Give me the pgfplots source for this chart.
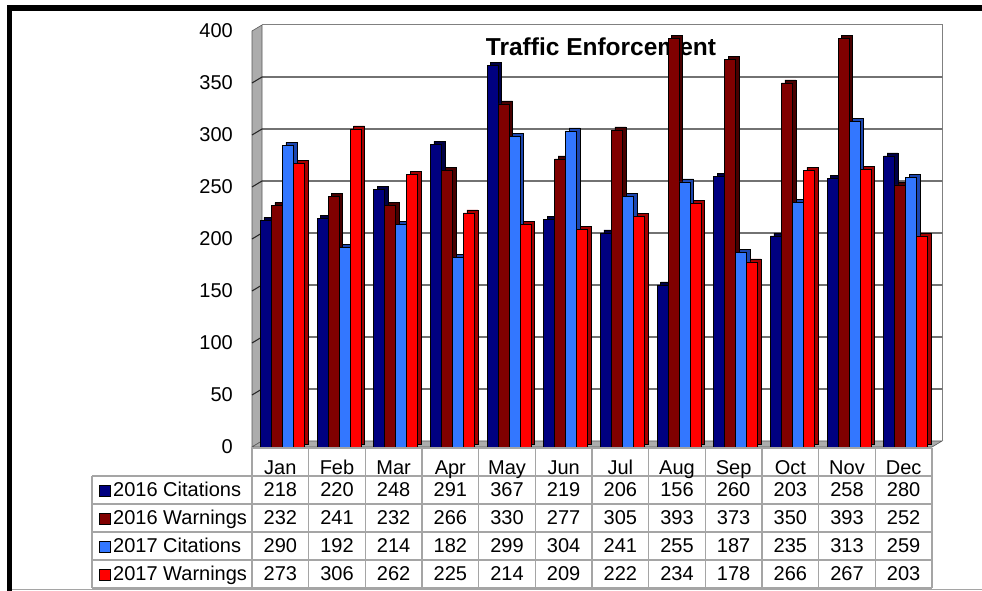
\documentclass[border=0pt]{standalone}
\usepackage{fontspec}
\setmainfont{Liberation Sans}
\usepackage{pgfplots}
\usepackage{pgfplotstable}
\pgfplotsset{compat=1.18}

\definecolor{cA}{RGB}{0,0,128}
\definecolor{cAs}{RGB}{0,0,70}
\definecolor{cB}{RGB}{128,0,0}
\definecolor{cBs}{RGB}{72,0,0}
\definecolor{cC}{RGB}{51,119,255}
\definecolor{cCs}{RGB}{28,70,175}
\definecolor{cD}{RGB}{255,0,0}
\definecolor{cDs}{RGB}{165,0,0}
\definecolor{wallgray}{RGB}{172,172,172}
\definecolor{tblgray}{RGB}{165,165,165}

\pgfplotstableread{
x month c16 w16 c17 w17
0 Jan 218 232 290 273
1 Feb 220 241 192 306
2 Mar 248 232 214 262
3 Apr 291 266 182 225
4 May 367 330 299 214
5 Jun 219 277 304 209
6 Jul 206 305 241 222
7 Aug 156 393 255 234
8 Sep 260 373 187 178
9 Oct 203 350 235 266
10 Nov 258 393 313 267
11 Dec 280 252 259 203
}\data

\begin{document}
\begin{tikzpicture}
\begin{scope}[x=1pt,y=1pt]
\path[use as bounding box] (0,0) rectangle (982,591);
% outer frame
\fill[black] (7,580) rectangle (982,586);
\fill[black] (7,0) rectangle (12,586);
\draw[tblgray, line width=1.2pt] (12,1.2) -- (982,1.2);
% side wall and floor
\fill[wallgray] (252,144) -- (262,150) -- (262,566) -- (252,560) -- cycle;
\draw[gray!70!black, line width=0.6pt] (252,144) -- (262,150) -- (262,566) -- (252,560) -- cycle;
\fill[wallgray] (252,144) -- (932,144) -- (942,150) -- (262,150) -- cycle;
\draw[gray!70!black, line width=0.6pt] (252,144) -- (932,144) -- (942,150) -- (262,150) -- cycle;
% back wall frame
\draw[gray, line width=1pt] (262,566) -- (942,566) -- (942,150);
% grid lines
\foreach \v in {50,100,...,350} {
  \draw[black!85, line width=1.1pt] (252,144+1.04*\v) -- (262,150+1.04*\v) -- (942,150+1.04*\v);
}
% title (behind the bars)
\node[font=\bfseries\fontsize{24.5}{28}\selectfont] at (601,544) {Traffic Enforcement};
\end{scope}

\begin{axis}[
  at={(252pt,144pt)}, anchor=south west,
  scale only axis, width=680pt, height=416pt,
  xmin=-0.5, xmax=11.5, ymin=0, ymax=400,
  axis line style={draw=none},
  ytick={0,50,...,400}, xtick=\empty,
  major tick length=0pt,
  /pgf/number format/assume math mode=true,
  yticklabel style={font=\fontsize{20}{24}\selectfont, inner sep=0pt, xshift=-19pt},
  ybar, bar width=11pt, clip=false,
  every axis plot/.append style={draw=black, line width=0.5pt},
]
\addplot[fill=cAs, draw=black, bar shift=-11pt, yshift=3pt] table[x=x,y=c16]{\data};
\addplot[fill=cA,  draw=black, bar shift=-14.5pt] table[x=x,y=c16]{\data};
\addplot[fill=cBs, draw=black, bar shift=0pt, yshift=3pt] table[x=x,y=w16]{\data};
\addplot[fill=cB,  draw=black, bar shift=-3.5pt] table[x=x,y=w16]{\data};
\addplot[fill=cCs, draw=black, bar shift=11pt, yshift=3pt] table[x=x,y=c17]{\data};
\addplot[fill=cC,  draw=black, bar shift=7.5pt] table[x=x,y=c17]{\data};
\addplot[fill=cDs, draw=black, bar shift=22pt, yshift=3pt] table[x=x,y=w17]{\data};
\addplot[fill=cD,  draw=black, bar shift=18.5pt] table[x=x,y=w17]{\data};
\end{axis}

\begin{scope}[x=1pt,y=1pt]
% table grid
\draw[tblgray, line width=1.3pt] (252,143) -- (932,143);
\foreach \yy in {115,87,59,31,3} { \draw[tblgray, line width=1.3pt] (92,\yy) -- (932,\yy); }
\draw[tblgray, line width=1.3pt] (92,115) -- (92,3);
\foreach \k in {0,...,12} { \draw[tblgray, line width=1.3pt] (252+56.667*\k,143) -- (252+56.667*\k,3); }
% legend column
\foreach \col/\lab/\yy in {cA/2016 Citations/94, cB/2016 Warnings/66, cC/2017 Citations/38, cD/2017 Warnings/10} {
  \filldraw[fill=\col, draw=black, line width=0.6pt] (99,\yy+1) rectangle (110,\yy+12);
  \node[anchor=base west, inner sep=0pt, font=\fontsize{20}{24}\selectfont] at (113,\yy) {\lab};
}
% cell values
\foreach \i in {0,...,11} {
  \pgfplotstablegetelem{\i}{month}\of\data
  \node[anchor=base, inner sep=0pt, font=\fontsize{20}{24}\selectfont] at (252+56.667*\i+28.33,116) {\pgfplotsretval};
  \pgfplotstablegetelem{\i}{c16}\of\data
  \node[anchor=base, inner sep=0pt, font=\fontsize{20}{24}\selectfont] at (252+56.667*\i+28.33,94) {\pgfplotsretval};
  \pgfplotstablegetelem{\i}{w16}\of\data
  \node[anchor=base, inner sep=0pt, font=\fontsize{20}{24}\selectfont] at (252+56.667*\i+28.33,66) {\pgfplotsretval};
  \pgfplotstablegetelem{\i}{c17}\of\data
  \node[anchor=base, inner sep=0pt, font=\fontsize{20}{24}\selectfont] at (252+56.667*\i+28.33,38) {\pgfplotsretval};
  \pgfplotstablegetelem{\i}{w17}\of\data
  \node[anchor=base, inner sep=0pt, font=\fontsize{20}{24}\selectfont] at (252+56.667*\i+28.33,10) {\pgfplotsretval};
}
\end{scope}
\end{tikzpicture}
\end{document}
